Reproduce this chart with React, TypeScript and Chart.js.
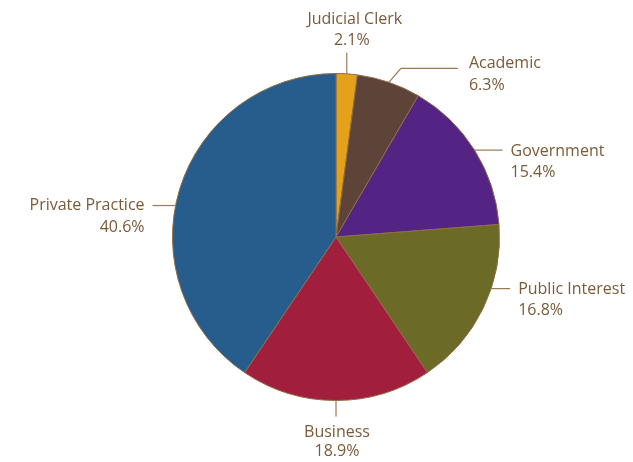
import React, { useEffect, useRef } from "react";
import { Chart, registerables } from "chart.js";

Chart.register(...registerables);

const categories = ["Judicial Clerk", "Academic", "Government", "Public Interest", "Business", "Private Practice"];
const shares = [2.1, 6.3, 15.4, 16.8, 18.9, 40.6];
const percentLabels = ["2.1%", "6.3%", "15.4%", "16.8%", "18.9%", "40.6%"];
const sliceColors = ["#E3A21A", "#5E4339", "#532483", "#6B6A27", "#A21E3D", "#275D8C"];

const TEXT_COLOR = "#7B5A38";
const LINE_COLOR = "#9A7A55";
const FONT = '16px "Open Sans", "Noto Sans", sans-serif';

type Layout = { kind: "up" | "elbow" | "right" | "down" | "left"; len: number; shiftDeg?: number };
const LABEL_LAYOUT: Layout[] = [
  { kind: "up", len: 21 },
  { kind: "elbow", len: 57 },
  { kind: "right", len: 28 },
  { kind: "right", len: 19, shiftDeg: -7.4 },
  { kind: "down", len: 16 },
  { kind: "left", len: 23, shiftDeg: -5.9 },
];

const leaderLabels = {
  id: "leaderLabels",
  afterDatasetsDraw(chart: any) {
    const ctx = chart.ctx as CanvasRenderingContext2D;
    const meta = chart.getDatasetMeta(0);
    ctx.save();
    ctx.font = FONT;
    ctx.textBaseline = "middle";
    meta.data.forEach((arc: any, i: number) => {
      const p = arc.getProps(["x", "y", "startAngle", "endAngle", "outerRadius"], true);
      const lay = LABEL_LAYOUT[i];
      const a = (p.startAngle + p.endAngle) / 2 + ((lay.shiftDeg || 0) * Math.PI) / 180;
      const ax = p.x + p.outerRadius * Math.cos(a);
      const ay = p.y + p.outerRadius * Math.sin(a);
      const l1 = categories[i];
      const l2 = percentLabels[i];
      ctx.strokeStyle = LINE_COLOR;
      ctx.lineWidth = 1.2;
      ctx.fillStyle = TEXT_COLOR;
      ctx.beginPath();
      if (lay.kind === "up") {
        const ey = ay - lay.len;
        ctx.moveTo(ax, ay);
        ctx.lineTo(ax, ey);
        ctx.stroke();
        ctx.textAlign = "center";
        ctx.fillText(l1, ax + 8, ey - 33);
        ctx.fillText(l2, ax + 5, ey - 12);
      } else if (lay.kind === "elbow") {
        const ey = ay - 14;
        ctx.moveTo(ax, ay);
        ctx.lineTo(ax + 12, ey);
        ctx.lineTo(ax + 12 + lay.len, ey);
        ctx.stroke();
        ctx.textAlign = "left";
        const tx = ax + 12 + lay.len + 11;
        ctx.fillText(l1, tx, ey - 5);
        ctx.fillText(l2, tx, ey + 17);
      } else if (lay.kind === "right") {
        const ex = ax + lay.len;
        ctx.moveTo(ax, ay);
        ctx.lineTo(ex, ay);
        ctx.stroke();
        ctx.textAlign = "left";
        ctx.fillText(l1, ex + 8, ay + 1);
        ctx.fillText(l2, ex + 8, ay + 22);
      } else if (lay.kind === "down") {
        const ey = ay + lay.len;
        ctx.moveTo(ax, ay);
        ctx.lineTo(ax, ey);
        ctx.stroke();
        ctx.textAlign = "center";
        ctx.fillText(l1, ax + 1, ey + 16);
        ctx.fillText(l2, ax + 1, ey + 35);
      } else {
        const ex = ax - lay.len;
        ctx.moveTo(ax, ay);
        ctx.lineTo(ex, ay);
        ctx.stroke();
        ctx.textAlign = "right";
        ctx.fillText(l1, ex - 8, ay);
        ctx.fillText(l2, ex - 8, ay + 22);
      }
    });
    ctx.restore();
  },
};

export default function App() {
  const ref = useRef<HTMLCanvasElement>(null);
  useEffect(() => {
    if (!ref.current) return;
    const chart = new Chart(ref.current, {
      type: "pie",
      data: {
        labels: categories,
        datasets: [
          {
            data: shares,
            backgroundColor: sliceColors,
            borderColor: "#8E6D48",
            borderWidth: 1,
          },
        ],
      },
      options: {
        responsive: false,
        animation: false,
        layout: { padding: { left: 172, right: 133, top: 73, bottom: 61 } },
        plugins: { legend: { display: false }, tooltip: { enabled: false } },
      },
      plugins: [leaderLabels],
    });
    return () => chart.destroy();
  }, []);
  return (
    <div style={{ position: "fixed", left: 0, top: 0, width: 633, height: 462, background: "#fff" }}>
      <canvas ref={ref} width={633} height={462} style={{ width: 633, height: 462 }} />
    </div>
  );
}
